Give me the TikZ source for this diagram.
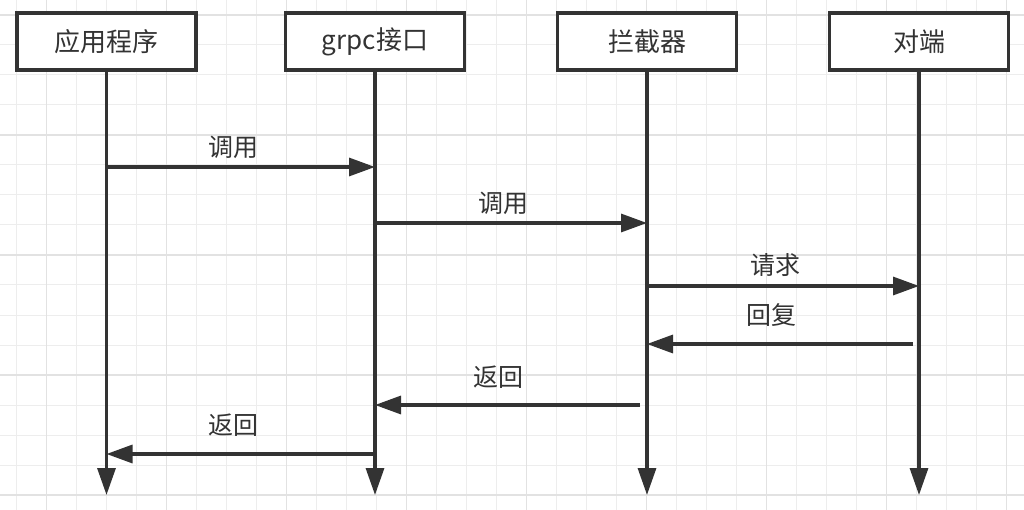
\documentclass[tikz,border=0pt]{standalone}
\usepackage{fontspec}
\setmainfont{Noto Sans CJK SC}
\usepackage{xcolor}
\usetikzlibrary{arrows.meta}
\definecolor{ink}{HTML}{333333}
\definecolor{gridlo}{HTML}{EDEDED}
\definecolor{gridhi}{HTML}{E2E2E2}
\tikzset{
  actor/.style={draw=ink, line width=3.2pt, fill=white, minimum width=179pt, minimum height=57pt,
    text=ink, font=\fontsize{26}{30}\selectfont},
  life/.style={draw=ink, line width=3.2pt, -{Triangle[length=27pt,width=18pt]}},
  msg/.style={draw=ink, line width=3.2pt, -{Triangle[length=26pt,width=18pt]}},
  msglabel/.style={text=ink, font=\fontsize{25}{28}\selectfont, inner sep=0pt}
}

\begin{document}
\begin{tikzpicture}[x=1pt,y=-1pt]
\useasboundingbox (0,0) rectangle (1024,510);
\fill[white] (0,0) rectangle (1024,510);
% grid
\foreach \x in {16.7,46.7,...,1024}{
\draw[gridlo, line width=1pt] (\x,0)--(\x,510);
}
\foreach \y in {15,45,...,510}{
\draw[gridlo, line width=1pt] (0,\y)--(1024,\y);
}
\foreach \x in {46.7,166.7,...,1024}{
\draw[gridhi, line width=1.5pt] (\x,0)--(\x,510);
}
\foreach \y in {15,135,...,510}{
\draw[gridhi, line width=1.5pt] (0,\y)--(1024,\y);
}

% participants
\node[actor] (app) at (106.5,41.5) {应用程序};
\node[actor] (grpc) at (375,41.5) {grpc接口};
\node[actor] (icpt) at (647,41.5) {拦截器};
\node[actor] (peer) at (919,41.5) {对端};

% lifelines
\foreach \p in {app,grpc,icpt,peer}{
\coordinate (\p-end) at (\p.south |- 0,495);
\draw[life] (\p.south) -- (\p-end);
}

% messages
\draw[msg] (app.south |- 0,167) -- (grpc.south |- 0,167);
\node[msglabel] (m1) at (233,147) {调用};
\draw[msg] (grpc.south |- 0,223) -- (icpt.south |- 0,223);
\node[msglabel] (m2) at (503,203) {调用};
\draw[msg] (icpt.south |- 0,286) -- (peer.south |- 0,286);
\node[msglabel] (m3) at (775,265) {请求};
\draw[msg] ([xshift=-6pt]peer.south |- 0,344) -- (icpt.south |- 0,344);
\node[msglabel] (m4) at (771,315) {回复};
\draw[msg] ([xshift=-7pt]icpt.south |- 0,405) -- (grpc.south |- 0,405);
\node[msglabel] (m5) at (498,377) {返回};
\draw[msg] (grpc.south |- 0,454) -- (app.south |- 0,454);
\node[msglabel] (m6) at (233,425) {返回};
\end{tikzpicture}
\end{document}
